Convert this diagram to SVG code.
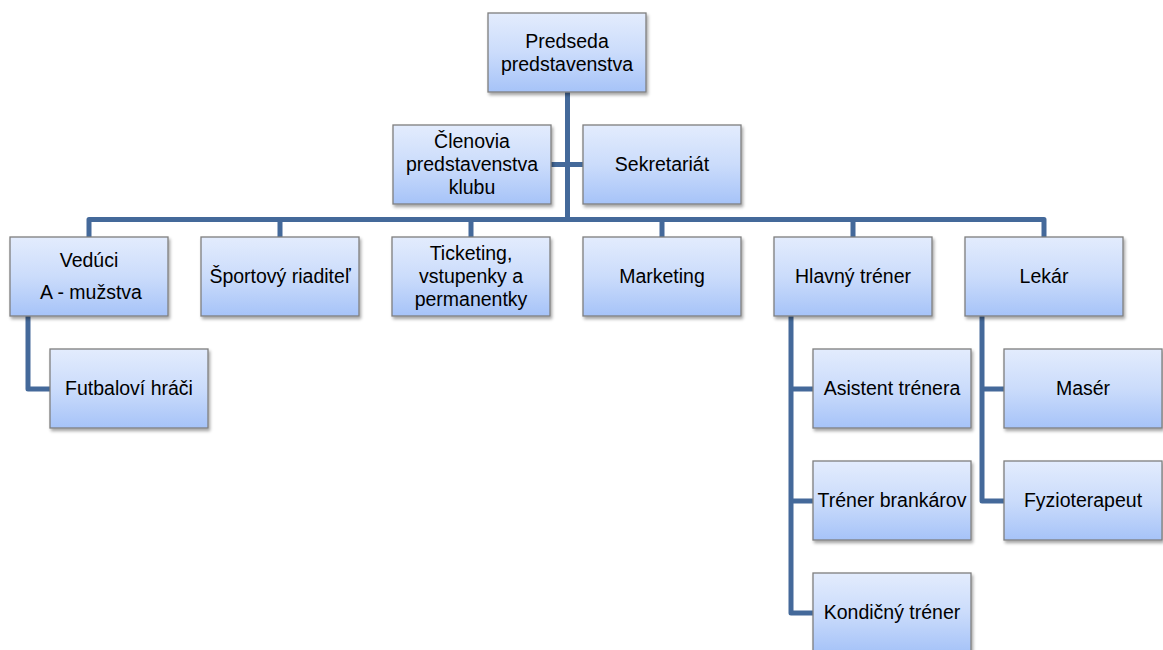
<svg xmlns="http://www.w3.org/2000/svg" width="1163" height="650" viewBox="0 0 1163 650">
<defs>
<linearGradient id="g" x1="0" y1="0" x2="0" y2="1">
<stop offset="0" stop-color="#e3ecfd"/>
<stop offset="0.5" stop-color="#cbdcfb"/>
<stop offset="1" stop-color="#a6c3f8"/>
</linearGradient>
<filter id="sh" x="-10%" y="-10%" width="125%" height="130%">
<feDropShadow dx="1.5" dy="2.5" stdDeviation="1.8" flood-color="#000" flood-opacity="0.35"/>
</filter>
</defs>
<style>
.box{fill:url(#g);stroke:#7f7f7f;stroke-width:1.3;filter:url(#sh)}
.t{font-family:"Liberation Sans",Arial,sans-serif;font-size:19.5px;fill:#000;text-anchor:middle}
.c{fill:none;stroke:#44699a;stroke-width:5;stroke-linejoin:round;stroke-linecap:butt}
</style>
<rect width="1163" height="650" fill="#fff"/>
<g id="connectors">
<path class="c" d="M567.5 92 V219.5"/>
<path class="c" d="M551 164.5 H583"/>
<path class="c" d="M89 237 V219.5 H1044 V237"/>
<path class="c" d="M280 219.5 V237 M471 219.5 V237 M662 219.5 V237 M853 219.5 V237"/>
<path class="c" d="M28 316 V389 H50"/>
<path class="c" d="M791 316 V613 H813 M791 389 H813 M791 501 H813"/>
<path class="c" d="M982 316 V501 H1004 M982 389 H1004"/>
</g>
<g id="n-predseda"><rect class="box" x="488" y="13" width="158" height="79"/><text class="t" x="567" y="48">Predseda</text><text class="t" x="567" y="71">predstavenstva</text></g>
<g id="n-clenovia"><rect class="box" x="393" y="125" width="158" height="79"/><text class="t" x="472" y="148">Členovia</text><text class="t" x="472" y="171">predstavenstva</text><text class="t" x="472" y="194">klubu</text></g>
<g id="n-sekretariat"><rect class="box" x="583" y="125" width="158" height="79"/><text class="t" x="662" y="171">Sekretariát</text></g>
<g id="n-veduci"><rect class="box" x="10" y="237" width="158" height="79"/><text class="t" x="89" y="267">Vedúci</text><text class="t" x="91" y="299">A - mužstva</text></g>
<g id="n-sportovy"><rect class="box" x="201" y="237" width="158" height="79"/><text class="t" x="280" y="283">Športový riaditeľ</text></g>
<g id="n-ticketing"><rect class="box" x="392" y="237" width="158" height="79"/><text class="t" x="471" y="260">Ticketing,</text><text class="t" x="471" y="283">vstupenky a</text><text class="t" x="471" y="306">permanentky</text></g>
<g id="n-marketing"><rect class="box" x="583" y="237" width="158" height="79"/><text class="t" x="662" y="283">Marketing</text></g>
<g id="n-hlavny"><rect class="box" x="774" y="237" width="158" height="79"/><text class="t" x="853" y="283">Hlavný tréner</text></g>
<g id="n-lekar"><rect class="box" x="965" y="237" width="158" height="79"/><text class="t" x="1044" y="283">Lekár</text></g>
<g id="n-futbalovi"><rect class="box" x="50" y="349" width="158" height="79"/><text class="t" x="129" y="395">Futbaloví hráči</text></g>
<g id="n-asistent"><rect class="box" x="813" y="349" width="158" height="79"/><text class="t" x="892" y="395">Asistent trénera</text></g>
<g id="n-brankarov"><rect class="box" x="813" y="461" width="158" height="79"/><text class="t" x="892" y="507">Tréner brankárov</text></g>
<g id="n-kondicny"><rect class="box" x="813" y="573" width="158" height="79"/><text class="t" x="892" y="619">Kondičný tréner</text></g>
<g id="n-maser"><rect class="box" x="1004" y="349" width="158" height="79"/><text class="t" x="1083" y="395">Masér</text></g>
<g id="n-fyzio"><rect class="box" x="1004" y="461" width="158" height="79"/><text class="t" x="1083" y="507">Fyzioterapeut</text></g>
</svg>
